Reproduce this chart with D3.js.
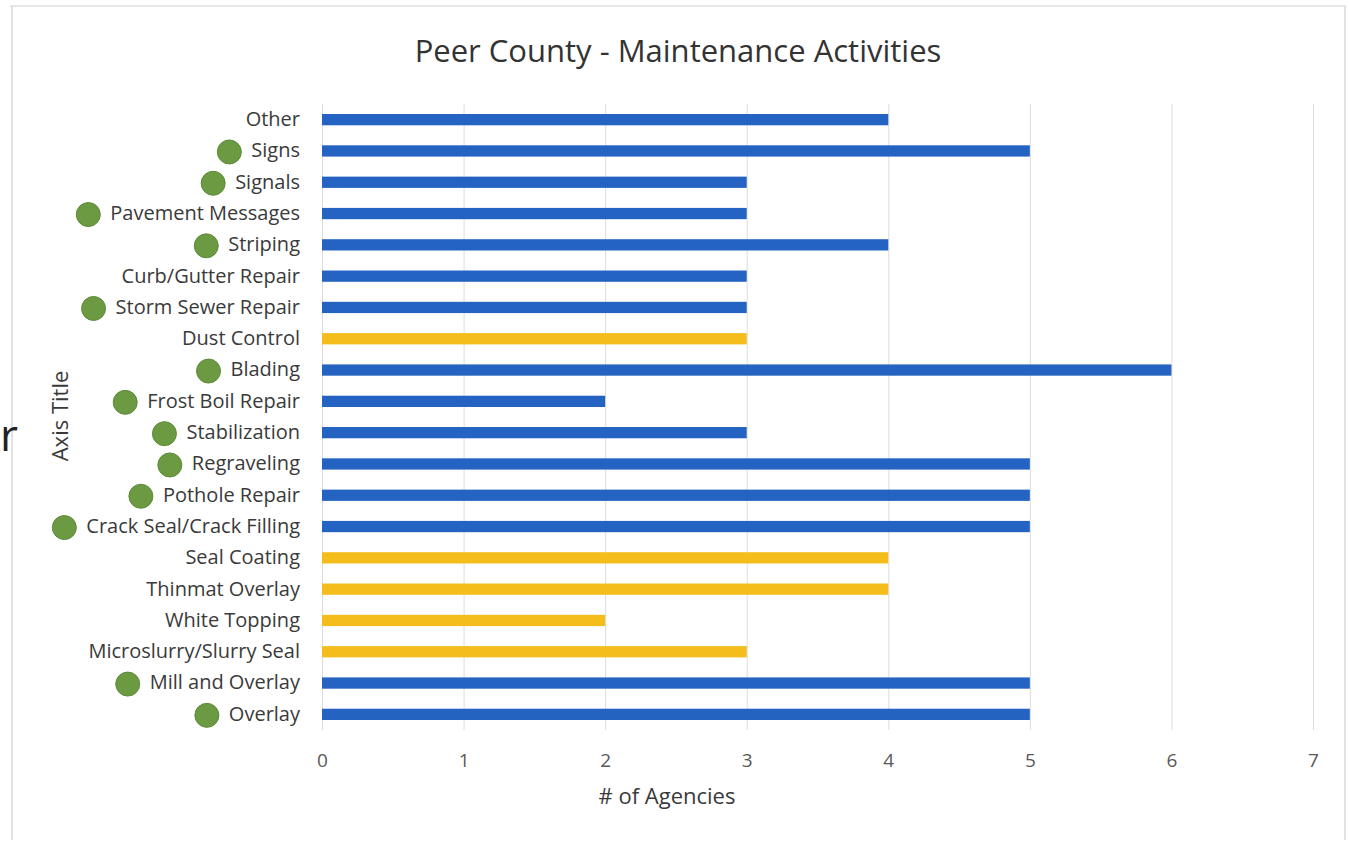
<!DOCTYPE html>
<html>
<head>
<meta charset="utf-8">
<script src="https://cdn.jsdelivr.net/npm/d3@7.9.0/dist/d3.min.js"></script>
<style>
  html, body { margin: 0; padding: 0; background: #fff; }
  svg { display: block; font-family: "Open Sans", sans-serif; }
</style>
</head>
<body>
<svg id="chart" width="1349" height="842"></svg>
<script>
// categories, top to bottom as they appear
const categories = [
  'Other', 'Signs', 'Signals', 'Pavement Messages', 'Striping',
  'Curb/Gutter Repair', 'Storm Sewer Repair', 'Dust Control', 'Blading',
  'Frost Boil Repair', 'Stabilization', 'Regraveling', 'Pothole Repair',
  'Crack Seal/Crack Filling', 'Seal Coating', 'Thinmat Overlay', 'White Topping',
  'Microslurry/Slurry Seal', 'Mill and Overlay', 'Overlay'
];
const agencies = [4, 5, 3, 3, 4, 3, 3, 3, 6, 2, 3, 5, 5, 5, 4, 4, 2, 3, 5, 5];
// yellow bars ("y") vs. blue bars ("b")
const barGroup = ['b','b','b','b','b','b','b','y','b','b','b','b','b','b','y','y','y','y','b','b'];
// green hand-drawn dots next to labels
const marked = [0,1,1,1,1,0,1,0,1,1,1,1,1,1,0,0,0,0,1,1];
const xTicks = [0, 1, 2, 3, 4, 5, 6, 7];

const title = 'Peer County - Maintenance Activities';
const xTitle = '# of Agencies';
const yTitle = 'Axis Title';

const data = categories.map((c, i) => ({ name: c, value: agencies[i], group: barGroup[i], mark: marked[i] }));

const svg = d3.select('#chart');
const margin = { top: 104, left: 322, right: 36, bottom: 112 };
const W = 1349, H = 842;

// scanned page frame
svg.append('path')
  .attr('d', 'M10,6 H1345 V840 M12,6 V840')
  .attr('fill', 'none').attr('stroke', '#cfcfcf').attr('stroke-width', 1.2);

const x = d3.scaleLinear().domain([0, 7]).range([margin.left, W - margin.right]);
const y = d3.scaleBand().domain(categories).range([margin.top, H - margin.bottom]).paddingInner(0.64).paddingOuter(0.32);

// gridlines
svg.append('g')
  .attr('transform', `translate(0,${H - margin.bottom})`)
  .call(d3.axisBottom(x).tickValues(xTicks).tickSize(-(H - margin.bottom - margin.top)).tickFormat(d => d))
  .call(g => g.select('.domain').remove())
  .call(g => g.selectAll('line').attr('stroke', '#dcdcdc').attr('stroke-width', 1))
  .call(g => g.selectAll('text').attr('fill', '#595959').attr('font-size', 19).attr('dy', 0).attr('y', 37).attr('font-family', '"Open Sans", sans-serif'));

// bars
svg.append('g').selectAll('rect').data(data).join('rect')
  .attr('x', x(0))
  .attr('y', d => y(d.name))
  .attr('height', y.bandwidth())
  .attr('width', d => x(d.value) - x(0))
  .attr('fill', d => d.group === 'y' ? '#f4bd1c' : '#2463c1');

// category labels
const yAxis = svg.append('g')
  .attr('transform', `translate(${margin.left},0)`)
  .call(d3.axisLeft(y).tickSize(0).tickPadding(22))
  .call(g => g.select('.domain').remove());
yAxis.selectAll('text')
  .attr('fill', '#3a3a3a').attr('font-size', 20).attr('font-family', '"Open Sans", sans-serif');

// green dots to the left of marked labels
yAxis.selectAll('.tick').each(function (name) {
  const d = data.find(e => e.name === name);
  if (!d.mark) return;
  const t = d3.select(this).select('text');
  const bb = t.node().getBBox();
  d3.select(this).append('circle')
    .attr('cx', bb.x - 22)
    .attr('cy', 1)
    .attr('r', 12)
    .attr('fill', '#6c9a43')
    .attr('stroke', '#5d8a37').attr('stroke-width', 1);
});

// titles
svg.append('text').attr('x', 678).attr('y', 62).attr('text-anchor', 'middle')
  .attr('font-size', 31).attr('fill', '#333').text(title);
svg.append('text').attr('x', 667).attr('y', 804).attr('text-anchor', 'middle')
  .attr('font-size', 22).attr('fill', '#3a3a3a').text(xTitle);
svg.append('text').attr('transform', 'translate(68,416) rotate(-90)').attr('text-anchor', 'middle')
  .attr('font-size', 22).attr('fill', '#3a3a3a').text(yTitle);

// stray letter at the scan's left edge
svg.append('text').attr('x', 0).attr('y', 451).attr('font-size', 44).attr('fill', '#222').text('r');
</script>
</body>
</html>
